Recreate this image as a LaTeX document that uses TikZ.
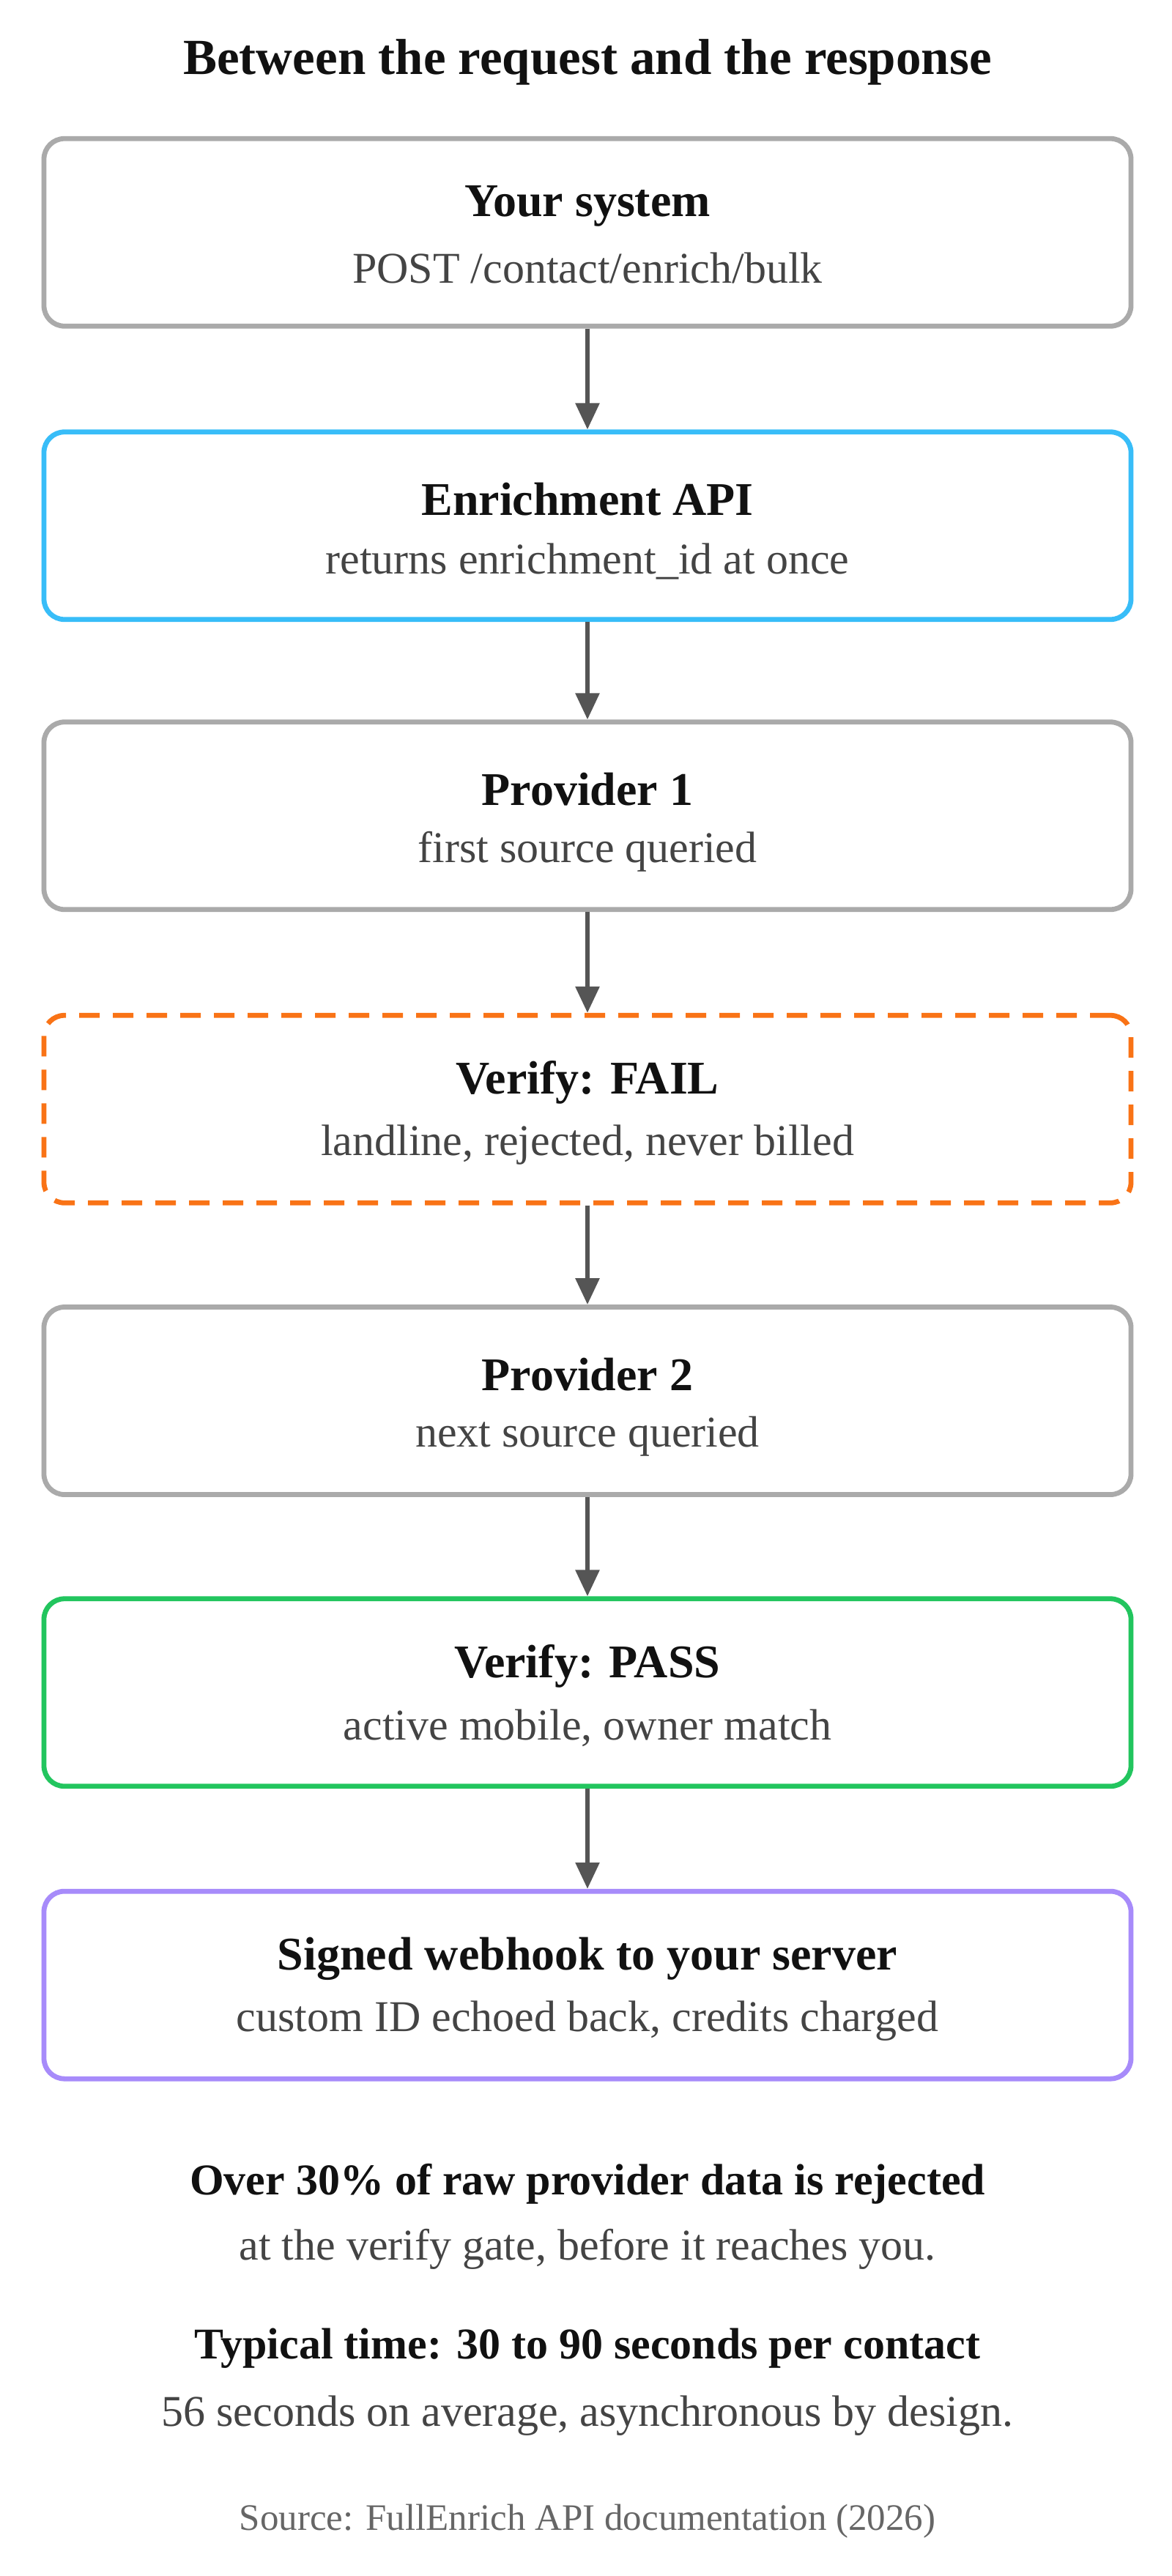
\documentclass[tikz,border=0pt]{standalone}
\usepackage{fontspec}
\setmainfont{Liberation Serif}
\usetikzlibrary{arrows.meta}
\definecolor{bgray}{HTML}{AAAAAA}
\definecolor{bblue}{HTML}{38BDF8}
\definecolor{borange}{HTML}{F97316}
\definecolor{bgreen}{HTML}{22C55E}
\definecolor{bpurple}{HTML}{A78BFA}
\definecolor{tdark}{HTML}{111111}
\definecolor{tsub}{HTML}{444444}
\definecolor{arr}{HTML}{555555}
\tikzset{
  box/.style={draw, line width=3.4pt, rounded corners=14pt, minimum width=742pt, minimum height=128pt, inner sep=0pt},
  dashbox/.style={box, dash pattern=on 14pt off 9pt},
  ttl/.style={font=\fontsize{32}{38}\selectfont\bfseries, text=tdark},
  sub/.style={font=\fontsize{30}{36}\selectfont, text=tsub},
  conn/.style={draw=arr, line width=3pt, -{Triangle[length=18pt,width=16pt]}}
}
\newcommand{\mybox}[6]{%
  \node[#6, draw=#3] (#1) at (401,-1.125*#2) {};
  \node[ttl] (#1t) at (401,-1.125*#2+18) {#4};
  \node[sub] (#1s) at (401,-1.125*#2-24.5) {#5};
}
\begin{document}
\begin{tikzpicture}[x=1pt,y=1pt]
\useasboundingbox (0,0) rectangle (800,-1758.5);
\node[ttl, font=\fontsize{34.5}{40}\selectfont\bfseries] (title) at (401,-42.5) {Between the request and the response};
\mybox{b1}{141}{bgray}{Your system}{POST /contact/enrich/bulk}{box}
\mybox{b2}{319}{bblue}{Enrichment API}{returns enrichment\_id at once}{box}
\mybox{b3}{495}{bgray}{Provider 1}{first source queried}{box}
\mybox{b4}{673}{borange}{Verify: FAIL}{landline, rejected, never billed}{dashbox}
\mybox{b5}{850}{bgray}{Provider 2}{next source queried}{box}
\mybox{b6}{1027}{bgreen}{Verify: PASS}{active mobile, owner match}{box}
\mybox{b7}{1204.5}{bpurple}{Signed webhook to your server}{custom ID echoed back, credits charged}{box}
\foreach \a/\b in {b1/b2,b2/b3,b3/b4,b4/b5,b5/b6,b6/b7}{
  \draw[conn] (\a.south) -- (\b.north);
}
\node[ttl, font=\fontsize{30}{36}\selectfont\bfseries] (n1) at (401,-1.125*1325) {Over 30\% of raw provider data is rejected};
\node[sub] (n2) at (401,-1.125*1365) {at the verify gate, before it reaches you.};
\node[ttl, font=\fontsize{30}{36}\selectfont\bfseries] (n3) at (401,-1.125*1425) {Typical time: 30 to 90 seconds per contact};
\node[sub] (n4) at (401,-1.125*1466) {56 seconds on average, asynchronous by design.};
\node[font=\fontsize{25.5}{30}\selectfont, text=black!60] (src) at (401,-1.125*1530) {Source: FullEnrich API documentation (2026)};
\end{tikzpicture}
\end{document}
